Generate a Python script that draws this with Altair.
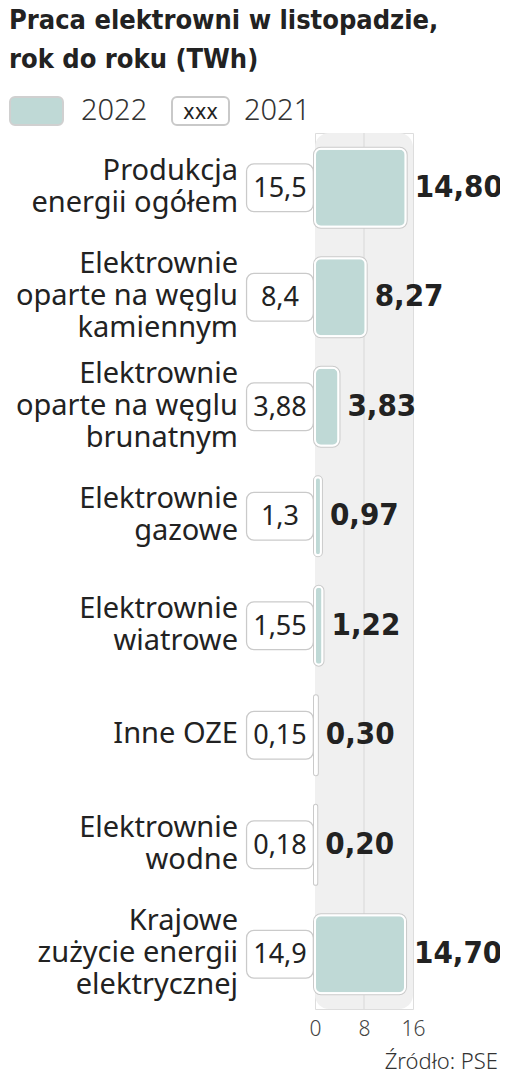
import altair as alt
import pandas as pd

categories = [
    "Produkcja\nenergii ogółem",
    "Elektrownie\noparte na węglu\nkamiennym",
    "Elektrownie\noparte na węglu\nbrunatnym",
    "Elektrownie\ngazowe",
    "Elektrownie\nwiatrowe",
    "Inne OZE",
    "Elektrownie\nwodne",
    "Krajowe\nzużycie energii\nelektrycznej",
]
values_2022 = [14.80, 8.27, 3.83, 0.97, 1.22, 0.30, 0.20, 14.70]
values_2021 = [15.5, 8.4, 3.88, 1.3, 1.55, 0.15, 0.18, 14.9]
x_ticks = [0, 8, 16]
title_lines = "Praca elektrowni w listopadzie,\nrok do roku (TWh)"
legend_labels = ["2022", "2021"]
source_text = "Źródło: PSE"

W, H = 98, 876
TEAL = "#bfd9d6"
PANEL = "#f0f0f0"
SANS = "Noto Sans"
COND = "DejaVu Sans Condensed"
LH = 32

df = pd.DataFrame({
    "cat": categories,
    "v22": values_2022,
    "v21": values_2021,
    "l22": [f"{v:.2f}".replace(".", ",") for v in values_2022],
    "l21": [str(v).replace(".", ",") for v in values_2021],
    "nl": [c.count("\n") + 1 for c in categories],
})
one = pd.DataFrame({"t": [""]})

xs = alt.Scale(domain=[0, 16], nice=False, zero=False)
ys = alt.Scale(domain=categories, paddingInner=0, paddingOuter=0)
Y = alt.Y("cat:N", scale=ys, axis=None, sort=categories)

base = alt.Chart(df)

panel = alt.Chart(one).mark_rect(color=PANEL, cornerRadius=14).encode(
    x=alt.datum(0, scale=xs, axis=alt.Axis(values=x_ticks, grid=False, domain=False, ticks=False,
                                              labelFontSize=21, labelFont=SANS, labelFontWeight=300,
                                              labelColor="#444", labelPadding=9, labelFlush=False,
                                              title=None)),
    x2=alt.datum(16),
    y=alt.value(0), y2=alt.value(H),
)
grid = alt.Chart(one).mark_rule(color="#d8d8d8", strokeWidth=1).encode(
    x=alt.datum(8), y=alt.value(0), y2=alt.value(H)
)

bar_shadow = base.mark_bar(size=78, cornerRadius=6, fill=TEAL, stroke="#cacaca", strokeWidth=4).encode(
    x=alt.X("v22:Q", scale=xs), y=Y)
bar_main = base.mark_bar(size=78, cornerRadius=6, fill=TEAL, stroke="white", strokeWidth=2).encode(
    x=alt.X("v22:Q", scale=xs), y=Y)

box_shadow = base.mark_bar(size=45, cornerRadius=6, fill="white", stroke="#cacaca", strokeWidth=4).encode(
    x=alt.datum(-10.95), x2=alt.datum(-0.5), y=Y)
box_main = base.mark_bar(size=45, cornerRadius=6, fill="white", stroke="white", strokeWidth=1.5).encode(
    x=alt.datum(-10.95), x2=alt.datum(-0.5), y=Y)
box_text = base.mark_text(font=SANS, fontSize=27, color="#222", align="center", baseline="middle", dy=1).encode(
    x=alt.datum(-5.72), y=Y, text="l21:N")

val_text = base.mark_text(font=COND, fontSize=31, fontWeight="bold", color="#222",
                          align="left", baseline="middle", dx=9, dy=0).encode(
    x=alt.X("v22:Q", scale=xs), y=Y, text="l22:N")

cat_layers = []
for n in (1, 2, 3):
    cat_layers.append(
        base.transform_filter(alt.datum.nl == n).mark_text(
            font=SANS, fontSize=29, color="#222", align="right", baseline="middle",
            lineBreak="\n", lineHeight=LH, dy=-(n - 1) * LH / 2 - 1,
        ).encode(x=alt.value(-77), y=Y, text="cat:N")
    )

title = alt.Chart(pd.DataFrame({"t": [title_lines]})).mark_text(
    font=COND, fontSize=27, fontWeight="bold", color="#222", align="left", baseline="alphabetic",
    lineBreak="\n", lineHeight=39).encode(x=alt.value(-306), y=alt.value(-104), text="t:N")

leg_rect1 = alt.Chart(one).mark_rect(fill=TEAL, stroke="#d0d0d0", strokeWidth=2, cornerRadius=5).encode(
    x=alt.value(-305), x2=alt.value(-252), y=alt.value(-36), y2=alt.value(-8))
leg_rect2 = alt.Chart(one).mark_rect(fill="white", stroke="#c9c9c9", strokeWidth=2, cornerRadius=5).encode(
    x=alt.value(-143), x2=alt.value(-86), y=alt.value(-36), y2=alt.value(-8))
leg_xxx = alt.Chart(pd.DataFrame({"t": ["xxx"]})).mark_text(
    font=COND, fontSize=22, color="#222", align="center", baseline="middle").encode(
    x=alt.value(-114.5), y=alt.value(-21), text="t:N")
leg_t1 = alt.Chart(pd.DataFrame({"t": [legend_labels[0]]})).mark_text(
    font=SANS, fontSize=29, fontWeight=300, color="#333", align="left", baseline="middle").encode(
    x=alt.value(-234), y=alt.value(-22), text="t:N")
leg_t2 = alt.Chart(pd.DataFrame({"t": [legend_labels[1]]})).mark_text(
    font=SANS, fontSize=29, fontWeight=300, color="#333", align="left", baseline="middle").encode(
    x=alt.value(-71), y=alt.value(-22), text="t:N")

src = alt.Chart(pd.DataFrame({"t": [source_text]})).mark_text(
    font=SANS, fontSize=22, fontWeight=300, color="#333", align="right", baseline="alphabetic").encode(
    x=alt.value(183), y=alt.value(936), text="t:N")

chart = alt.layer(
    panel, grid, bar_shadow, bar_main, box_shadow, box_main, box_text, val_text, *cat_layers,
    title, leg_rect1, leg_rect2, leg_xxx, leg_t1, leg_t2, src,
).properties(
    width=W, height=H,
    autosize=alt.AutoSizeParams(type="none"),
    padding={"left": 307, "top": 125, "right": 87, "bottom": 63},
).configure_view(stroke=None).configure(background="white")

chart.save("out.html", embed_options={"renderer": "svg", "actions": False})
